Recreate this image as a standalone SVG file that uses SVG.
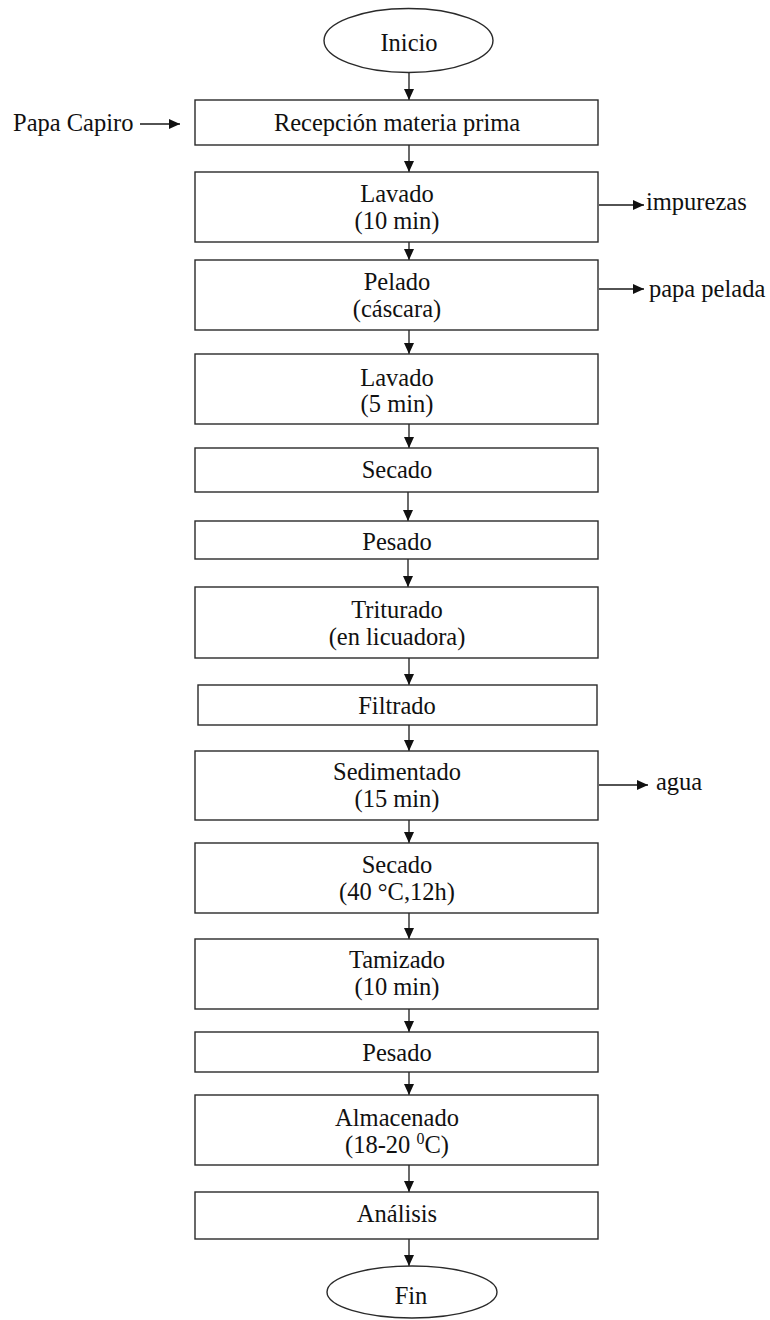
<svg xmlns="http://www.w3.org/2000/svg" width="770" height="1320" viewBox="0 0 770 1320">
<style>
  .box{fill:#fff;stroke:#2a2a2a;stroke-width:1.4}
  .t{font-family:"Liberation Serif","Times New Roman",Times,serif;font-size:24.5px;fill:#111;text-anchor:middle}
  .l{font-family:"Liberation Serif","Times New Roman",Times,serif;font-size:24.5px;fill:#111}
  .c{stroke:#1a1a1a;stroke-width:1.3;fill:none;marker-end:url(#ah)}
</style>
<defs>
  <marker id="ah" markerUnits="userSpaceOnUse" markerWidth="11" markerHeight="10" refX="11" refY="5" orient="auto">
    <path d="M0,0 L11,5 L0,10 z" fill="#111"/>
  </marker>
</defs>
<rect width="770" height="1320" fill="#fff"/>
<g id="connectors">
  <line class="c" x1="409" y1="73" x2="409" y2="100"/>
  <line class="c" x1="409" y1="145" x2="409" y2="172"/>
  <line class="c" x1="409" y1="242" x2="409" y2="260"/>
  <line class="c" x1="409" y1="330" x2="409" y2="354"/>
  <line class="c" x1="409" y1="424" x2="409" y2="448"/>
  <line class="c" x1="408" y1="492" x2="408" y2="521"/>
  <line class="c" x1="408" y1="559" x2="408" y2="587"/>
  <line class="c" x1="409" y1="658" x2="409" y2="685"/>
  <line class="c" x1="409" y1="725" x2="409" y2="751"/>
  <line class="c" x1="409" y1="820" x2="409" y2="843"/>
  <line class="c" x1="409" y1="913" x2="409" y2="939"/>
  <line class="c" x1="409" y1="1009" x2="409" y2="1032"/>
  <line class="c" x1="409" y1="1072" x2="409" y2="1095"/>
  <line class="c" x1="409" y1="1165" x2="409" y2="1192"/>
  <line class="c" x1="409" y1="1239" x2="409" y2="1266"/>
  <line class="c" x1="140" y1="124" x2="180" y2="124"/>
  <line class="c" x1="599" y1="205" x2="644" y2="205"/>
  <line class="c" x1="599" y1="289" x2="644" y2="289"/>
  <line class="c" x1="599" y1="785" x2="648" y2="785"/>
</g>
<g id="inicio"><ellipse class="box" cx="408.5" cy="40.5" rx="84.5" ry="32"/><text class="t" x="409" y="51">Inicio</text></g>
<g id="papa-capiro"><text class="l" x="13" y="131">Papa Capiro</text></g>
<g id="recepcion"><rect class="box" x="195" y="100" width="403" height="45"/><text class="t" x="397" y="131">Recepción materia prima</text></g>
<g id="lavado1"><rect class="box" x="195" y="172" width="403" height="70"/><text class="t" x="397" y="202">Lavado</text><text class="t" x="397" y="229">(10 min)</text></g>
<g id="impurezas"><text class="l" x="646" y="210">impurezas</text></g>
<g id="pelado"><rect class="box" x="195" y="260" width="403" height="70"/><text class="t" x="397" y="290">Pelado</text><text class="t" x="397" y="317">(cáscara)</text></g>
<g id="papa-pelada"><text class="l" x="649" y="297">papa pelada</text></g>
<g id="lavado2"><rect class="box" x="195" y="354" width="403" height="70"/><text class="t" x="397" y="386">Lavado</text><text class="t" x="397" y="412">(5 min)</text></g>
<g id="secado1"><rect class="box" x="195" y="448" width="403" height="44"/><text class="t" x="397" y="478">Secado</text></g>
<g id="pesado1"><rect class="box" x="195" y="521" width="403" height="38"/><text class="t" x="397" y="550">Pesado</text></g>
<g id="triturado"><rect class="box" x="195" y="587" width="403" height="71"/><text class="t" x="397" y="618">Triturado</text><text class="t" x="397" y="645">(en licuadora)</text></g>
<g id="filtrado"><rect class="box" x="198" y="685" width="399" height="40"/><text class="t" x="397" y="714">Filtrado</text></g>
<g id="sedimentado"><rect class="box" x="195" y="751" width="403" height="69"/><text class="t" x="397" y="780">Sedimentado</text><text class="t" x="397" y="807">(15 min)</text></g>
<g id="agua"><text class="l" x="656" y="790">agua</text></g>
<g id="secado2"><rect class="box" x="195" y="843" width="403" height="70"/><text class="t" x="397" y="873">Secado</text><text class="t" x="397" y="900">(40 °C,12h)</text></g>
<g id="tamizado"><rect class="box" x="195" y="939" width="403" height="70"/><text class="t" x="397" y="968">Tamizado</text><text class="t" x="397" y="995">(10 min)</text></g>
<g id="pesado2"><rect class="box" x="195" y="1032" width="403" height="40"/><text class="t" x="397" y="1061">Pesado</text></g>
<g id="almacenado"><rect class="box" x="195" y="1095" width="403" height="70"/><text class="t" x="397" y="1126">Almacenado</text><text class="t" x="397" y="1153">(18-20 <tspan font-size="16" dy="-9">0</tspan><tspan dy="9">C)</tspan></text></g>
<g id="analisis"><rect class="box" x="195" y="1192" width="403" height="47"/><text class="t" x="397" y="1222">Análisis</text></g>
<g id="fin"><ellipse class="box" cx="412" cy="1292" rx="85" ry="26"/><text class="t" x="411" y="1304">Fin</text></g>
</svg>
